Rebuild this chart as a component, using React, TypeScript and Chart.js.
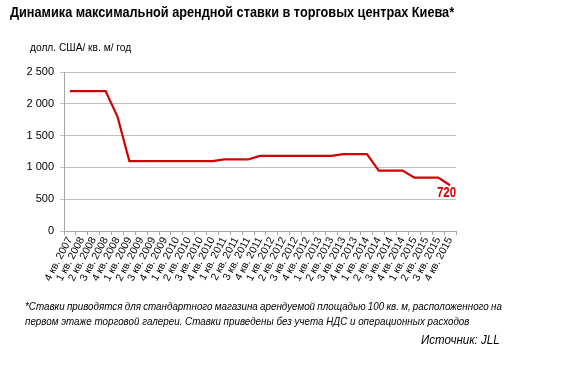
import React, { useEffect, useLayoutEffect, useRef, useState } from "react";
import { Chart, registerables } from "chart.js";

Chart.register(...registerables);

const quarters: string[] = [
  "4 кв. 2007",
  "1 кв. 2008", "2 кв. 2008", "3 кв. 2008", "4 кв. 2008",
  "1 кв. 2009", "2 кв. 2009", "3 кв. 2009", "4 кв. 2009",
  "1 кв. 2010", "2 кв. 2010", "3 кв. 2010", "4 кв. 2010",
  "1 кв. 2011", "2 кв. 2011", "3 кв. 2011", "4 кв. 2011",
  "1 кв. 2012", "2 кв. 2012", "3 кв. 2012", "4 кв. 2012",
  "1 кв. 2013", "2 кв. 2013", "3 кв. 2013", "4 кв. 2013",
  "1 кв. 2014", "2 кв. 2014", "3 кв. 2014", "4 кв. 2014",
  "1 кв. 2015", "2 кв. 2015", "3 кв. 2015", "4 кв. 2015",
];

const maxRent: number[] = [
  2200,
  2200, 2200, 2200, 1800,
  1100, 1100, 1100, 1100,
  1100, 1100, 1100, 1100,
  1125, 1125, 1125, 1180,
  1180, 1180, 1180, 1180,
  1180, 1180, 1210, 1210,
  1210, 950, 950, 950,
  840, 840, 840, 720,
];

const yTicks: number[] = [0, 500, 1000, 1500, 2000, 2500];

const TITLE = "Динамика максимальной арендной ставки в торговых центрах Киева*";
const UNITS = "долл. США/ кв. м/ год";
const NOTE_LINE1 =
  "*Ставки приводятся для стандартного магазина арендуемой площадью 100 кв. м, расположенного на";
const NOTE_LINE2 =
  "первом этаже торговой галереи. Ставки приведены без учета НДС и операционных расходов";
const SOURCE = "Источник: JLL";

const RED = "#d40000";
const FONT = "'Liberation Sans', Arial, sans-serif";

const fmt = (v: number) => {
  const s = String(v);
  return s.length > 3 ? s.slice(0, s.length - 3) + " " + s.slice(-3) : s;
};

const lastLabelPlugin = {
  id: "lastLabel",
  afterDatasetsDraw(chart: any) {
    const meta = chart.getDatasetMeta(0);
    const n = maxRent.length - 1;
    const pt = meta.data[n];
    if (!pt) return;
    const ctx = chart.ctx;
    ctx.save();
    ctx.fillStyle = RED;
    ctx.font = `bold 14px ${FONT}`;
    ctx.textAlign = "right";
    ctx.textBaseline = "top";
    ctx.translate(pt.x + 6, pt.y + 1);
    ctx.scale(0.82, 1);
    ctx.fillText(String(maxRent[n]), 0, 0);
    ctx.restore();
  },
};

function Fit(props: { text: string; left: number; top: number; width: number; style: any }) {
  const ref = useRef<HTMLSpanElement | null>(null);
  const [s, setS] = useState(1);
  useLayoutEffect(() => {
    if (ref.current) setS(props.width / ref.current.offsetWidth);
  }, []);
  return (
    <span
      ref={ref}
      style={{
        position: "absolute",
        left: props.left,
        top: props.top,
        whiteSpace: "nowrap",
        transformOrigin: "left top",
        transform: `scaleX(${s})`,
        ...props.style,
      }}
    >
      {props.text}
    </span>
  );
}

function Footnote() {
  const ref1 = useRef<HTMLSpanElement | null>(null);
  const ref2 = useRef<HTMLSpanElement | null>(null);
  const [s, setS] = useState(1);
  const [ws, setWs] = useState(0);
  const line2Width = 444;
  const fullWidth = 477;
  useLayoutEffect(() => {
    if (ref1.current && ref2.current) {
      const w2 = ref2.current.offsetWidth;
      const w1 = ref1.current.offsetWidth;
      const sc = line2Width / w2;
      const gaps = NOTE_LINE1.split(" ").length - 1;
      setS(sc);
      setWs((fullWidth / sc - w1) / gaps);
    }
  }, []);
  const st: any = {
    position: "absolute",
    left: 25,
    whiteSpace: "nowrap",
    transformOrigin: "left top",
    transform: `scaleX(${s})`,
    fontFamily: FONT,
    fontStyle: "italic",
    fontSize: 10.5,
    color: "#000",
    lineHeight: "15px",
  };
  return (
    <>
      <span ref={ref1} style={{ ...st, top: 299, wordSpacing: ws }}>
        {NOTE_LINE1}
      </span>
      <span ref={ref2} style={{ ...st, top: 314 }}>
        {NOTE_LINE2}
      </span>
    </>
  );
}

export default function App() {
  const ref = useRef<HTMLCanvasElement | null>(null);

  useEffect(() => {
    if (!ref.current) return;
    const chart = new Chart(ref.current, {
      type: "line",
      data: {
        labels: quarters,
        datasets: [
          {
            data: maxRent,
            borderColor: RED,
            backgroundColor: RED,
            borderWidth: 2.2,
            pointRadius: 0,
            tension: 0,
          },
        ],
      },
      options: {
        responsive: false,
        animation: false,
        layout: { padding: { top: 72, right: 113, bottom: 86, left: 0 } },
        plugins: {
          legend: { display: false },
          tooltip: { enabled: false },
          title: { display: false },
        },
        scales: {
          x: {
            offset: true,
            grid: {
              offset: true,
              drawOnChartArea: false,
              drawTicks: true,
              tickLength: 4,
              color: "#a6a6a6",
            },
            border: { display: true, color: "#a6a6a6" },
            ticks: {
              autoSkip: false,
              maxRotation: 62,
              minRotation: 62,
              padding: 0,
              color: "#000",
              font: { family: FONT, size: 10.5 },
            },
            afterFit: (s: any) => {
              s.height = 60;
            },
          },
          y: {
            min: 0,
            max: 2500,
            afterBuildTicks: (s: any) => {
              s.ticks = yTicks.map((v) => ({ value: v }));
            },
            grid: {
              color: "#bfbfbf",
              tickLength: 4,
              lineWidth: 1,
            },
            border: { display: true, color: "#a6a6a6" },
            ticks: {
              padding: 6,
              color: "#000",
              font: { family: FONT, size: 11 },
              callback: (v: any) => fmt(Number(v)),
            },
            afterFit: (s: any) => {
              s.width = 64;
            },
          },
        },
      },
      plugins: [lastLabelPlugin],
    });
    return () => chart.destroy();
  }, []);

  return (
    <div style={{ position: "fixed", left: 0, top: 0, width: 569, height: 377, background: "#fff", overflow: "hidden" }}>
      <canvas ref={ref} width={569} height={377} style={{ position: "absolute", left: 0, top: 0 }} />
      <Fit
        text={TITLE}
        left={10}
        top={4}
        width={444}
        style={{ fontFamily: FONT, fontWeight: "bold", fontSize: 14, color: "#000" }}
      />
      <Fit
        text={UNITS}
        left={30}
        top={41}
        width={101}
        style={{ fontFamily: FONT, fontSize: 11, color: "#000" }}
      />
      <Footnote />
      <Fit
        text={SOURCE}
        left={421}
        top={332}
        width={79}
        style={{ fontFamily: FONT, fontStyle: "italic", fontSize: 13, color: "#000" }}
      />
    </div>
  );
}
